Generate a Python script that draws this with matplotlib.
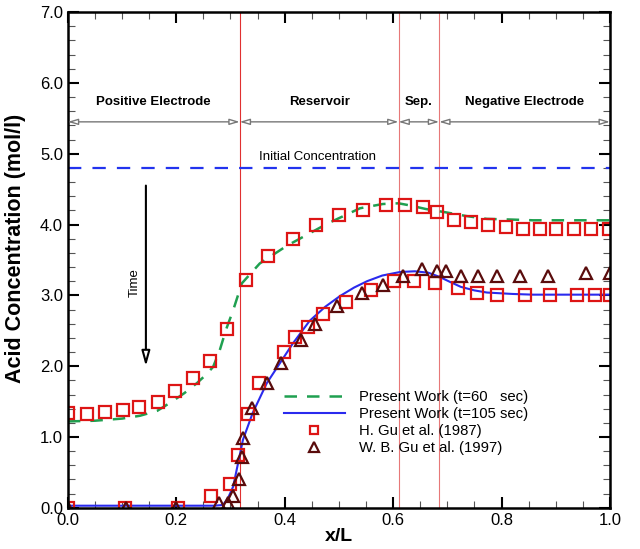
import matplotlib
matplotlib.use("Agg")
import matplotlib.pyplot as plt
from matplotlib.ticker import MultipleLocator

plt.rcParams['font.family'] = ['Liberation Sans', 'DejaVu Sans']

# present work, t = 60 sec
x60 = [0.0, 0.05, 0.10, 0.133, 0.165, 0.19, 0.215, 0.238, 0.255, 0.268, 0.28, 0.292, 0.305,
       0.321, 0.354, 0.404, 0.478, 0.539, 0.581, 0.61, 0.631, 0.66, 0.699, 0.735, 0.773,
       0.82, 0.858, 0.92, 1.0]
y60 = [1.22, 1.23, 1.26, 1.30, 1.37, 1.49, 1.62, 1.76, 1.88, 1.99, 2.22, 2.52, 2.79,
       3.17, 3.45, 3.70, 4.01, 4.23, 4.29, 4.30, 4.27, 4.22, 4.17, 4.12, 4.08,
       4.07, 4.06, 4.06, 4.06]

# present work, t = 105 sec
x105 = [0.0, 0.1, 0.2, 0.27, 0.286, 0.295, 0.305, 0.314, 0.323, 0.341, 0.367, 0.391,
        0.415, 0.446, 0.475, 0.502, 0.528, 0.552, 0.58, 0.613, 0.64, 0.665, 0.686,
        0.705, 0.725, 0.75, 0.773, 0.82, 0.858, 0.93, 1.0]
y105 = [0.03, 0.03, 0.03, 0.03, 0.04, 0.13, 0.30, 0.63, 0.96, 1.34, 1.76, 2.04,
        2.32, 2.64, 2.84, 2.99, 3.11, 3.20, 3.28, 3.33, 3.34, 3.32, 3.26,
        3.19, 3.12, 3.07, 3.04, 3.02, 3.01, 3.01, 3.01]

# H. Gu et al. (1987)
gu87_x = [0.0, 0.035, 0.068, 0.101, 0.131, 0.166, 0.197, 0.231, 0.262, 0.293, 0.328,
          0.369, 0.415, 0.458, 0.500, 0.544, 0.587, 0.622, 0.655, 0.681, 0.712, 0.744,
          0.775, 0.808, 0.839, 0.871, 0.900, 0.934, 0.965, 0.998,
          0.0, 0.105, 0.203, 0.264, 0.299, 0.314, 0.332, 0.352, 0.398, 0.419, 0.443,
          0.471, 0.513, 0.559, 0.601, 0.638, 0.677, 0.719, 0.755, 0.792, 0.843, 0.889,
          0.939, 0.972, 1.0]
gu87_y = [1.34, 1.33, 1.35, 1.38, 1.42, 1.49, 1.65, 1.83, 2.07, 2.52, 3.21,
          3.55, 3.79, 3.99, 4.14, 4.21, 4.28, 4.28, 4.25, 4.18, 4.07, 4.03,
          3.99, 3.96, 3.93, 3.93, 3.93, 3.93, 3.93, 3.93,
          0.0, 0.0, 0.0, 0.16, 0.34, 0.75, 1.32, 1.76, 2.20, 2.41, 2.56,
          2.73, 2.90, 3.08, 3.20, 3.20, 3.18, 3.11, 3.04, 3.01, 3.00, 3.00,
          3.01, 3.01, 3.01]

# W. B. Gu et al. (1997)
gu97_x = [0.0, 0.107, 0.2, 0.279, 0.295, 0.304, 0.316, 0.322, 0.323, 0.339, 0.367,
          0.393, 0.431, 0.456, 0.496, 0.542, 0.581, 0.618, 0.653, 0.681, 0.697, 0.725,
          0.756, 0.792, 0.834, 0.886, 0.956, 1.0]
gu97_y = [0.0, 0.0, 0.0, 0.07, 0.07, 0.17, 0.41, 0.72, 0.99, 1.41, 1.76,
          2.04, 2.37, 2.59, 2.85, 3.04, 3.15, 3.28, 3.37, 3.35, 3.34, 3.28,
          3.27, 3.27, 3.27, 3.27, 3.31, 3.31]

boundaries = [0.317, 0.61, 0.685]
regions = ["Positive Electrode", "Reservoir", "Sep.", "Negative Electrode"]
init_conc = 4.8

fig = plt.figure(figsize=(6.4, 5.49), dpi=100)
ax = fig.add_axes([0.106, 0.075, 0.847, 0.903])

for i, b in enumerate(boundaries):
    ax.axvline(b, color='#e03030' if i == 0 else '#e77878', lw=0.8, zorder=1)

ax.axhline(init_conc, color='#2233ee', lw=1.6, dashes=(6, 5))
ax.text(0.46, init_conc + 0.16, "Initial Concentration", ha='center', va='center',
        fontsize=9.5)

edges = [0.0] + boundaries + [1.0]
for i, name in enumerate(regions):
    ax.annotate("", xy=(edges[i], 5.45), xytext=(edges[i + 1], 5.45),
                arrowprops=dict(arrowstyle='<|-|>,head_length=0.6,head_width=0.18',
                                color='#777777', fc='white', lw=1.0,
                                shrinkA=0, shrinkB=0))
    ax.text((edges[i] + edges[i + 1]) / 2, 5.73, name, ha='center', va='center',
            fontsize=9.5, fontweight='bold')

ax.annotate("", xy=(0.144, 2.0), xytext=(0.144, 4.55),
            arrowprops=dict(arrowstyle='-|>,head_length=0.9,head_width=0.25',
                            color='black', fc='white', lw=1.5,
                            shrinkA=0, shrinkB=0))
ax.text(0.124, 3.18, "Time", rotation=90, ha='center', va='center', fontsize=9.5)

ax.plot(x60, y60, color='#1fa050', lw=1.8, dashes=(5, 4),
        label="Present Work (t=60   sec)")
ax.plot(x105, y105, color='#2a2aee', lw=1.5, label="Present Work (t=105 sec)")
ax.plot(gu87_x, gu87_y, 's', ms=8, mfc='none', mec='#dd1515', mew=1.6, ls='none',
        label="H. Gu et al. (1987)")
ax.plot(gu97_x, gu97_y, '^', ms=8.5, mfc='none', mec='#5a0c0c', mew=1.6, ls='none',
        label="W. B. Gu et al. (1997)")

ax.legend(loc='upper left', bbox_to_anchor=(0.398, 0.238), frameon=False,
          fontsize=10.7, handlelength=4.1, handletextpad=0.95, labelspacing=0.2,
          markerscale=0.8, borderpad=0, borderaxespad=0)

ax.set_xlim(0, 1)
ax.set_ylim(0, 7)
ax.xaxis.set_major_locator(MultipleLocator(0.2))
ax.xaxis.set_minor_locator(MultipleLocator(0.05))
ax.yaxis.set_major_locator(MultipleLocator(1.0))
ax.yaxis.set_minor_locator(MultipleLocator(0.2))
ax.xaxis.set_major_formatter(plt.FormatStrFormatter('%.1f'))
ax.yaxis.set_major_formatter(plt.FormatStrFormatter('%.1f'))
ax.tick_params(which='both', direction='in', top=True, right=True, labelsize=12)
ax.tick_params(which='major', length=8, width=1.5)
ax.tick_params(which='minor', length=5, width=0.8, color='#555555')
for s in ax.spines.values():
    s.set_linewidth(1.8)

ax.set_xlabel("x/L", fontsize=14, fontweight='bold', labelpad=0)
ax.set_ylabel("Acid Concentration (mol/l)", fontsize=15.5, fontweight='bold')
ax.yaxis.set_label_coords(-0.078, 0.523)

fig.savefig("out.png", dpi=100)
